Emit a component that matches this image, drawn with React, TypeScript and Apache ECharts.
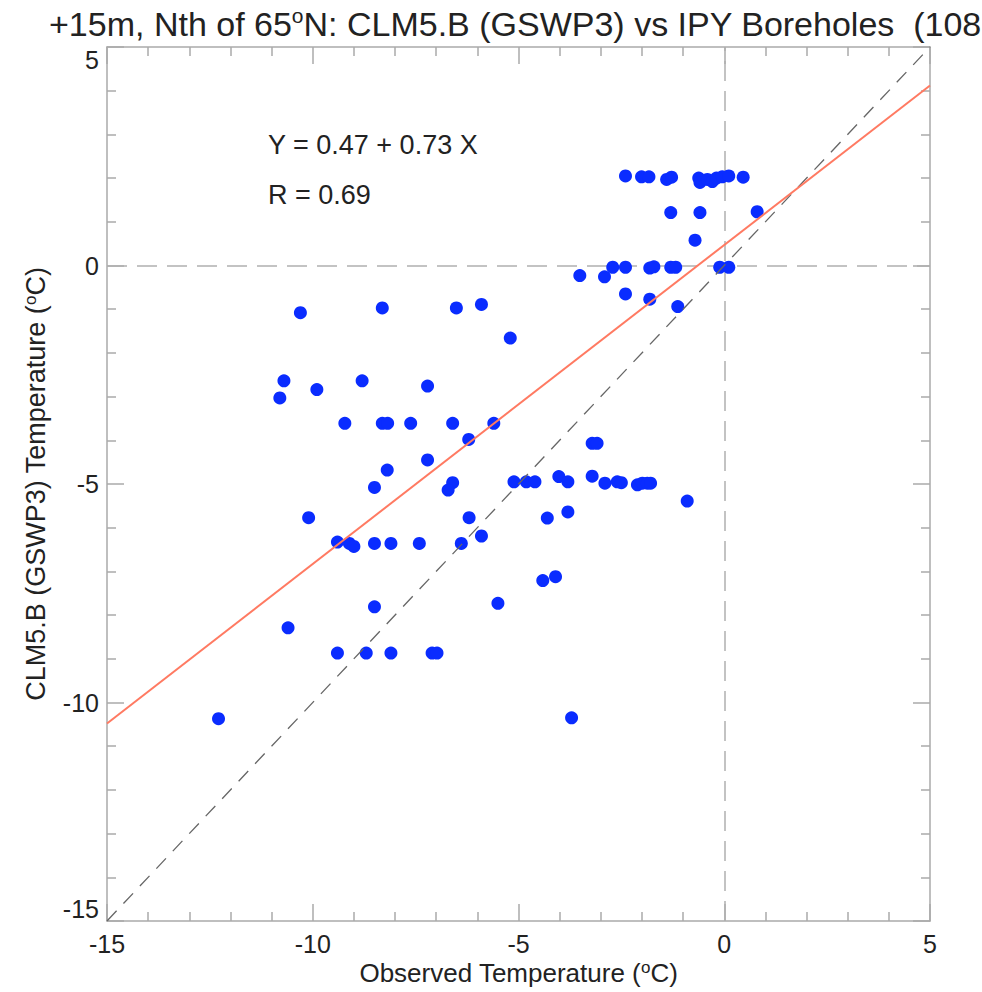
import React, { useEffect, useRef } from "react";
import * as echarts from "echarts";

// Observed borehole temperature (°C) and CLM5.B (GSWP3) temperature (°C)
const observed: number[] = [
  -10.30, -8.31, -6.51, -5.90, -5.20,
  -10.70, -10.80, -9.90, -8.80, -7.21,
  -9.22, -8.31, -8.18, -7.62, -6.60, -5.60, -6.21,
  -3.21, -3.09,
  -7.21, -8.19, -8.50, -6.60, -6.71,
  -10.10, -6.20,
  -9.40, -9.11, -9.00, -8.50, -8.10, -7.41, -6.39, -5.90,
  -8.50, -10.60,
  -9.40, -8.70, -8.10, -7.10, -6.98,
  -12.29,
  -5.11, -4.81, -4.60, -4.02, -3.80, -3.21, -2.90, -2.60, -2.50, -2.11, -1.99, -1.87, -1.79,
  -0.90, -4.30, -3.80,
  -4.41, -4.10, -5.50, -3.71,
  -2.40, -2.01, -1.83, -1.40, -1.28, -0.62, -0.59, -0.41, -0.29, -0.19, -0.05, 0.11, 0.46,
  -1.30, -0.59, 0.80, -0.71,
  -3.51, -2.91, -2.71, -2.40, -1.81, -1.71, -1.30, -1.18, -0.11, 0.11,
  -2.40, -1.81, -1.13,
];
const modelled: number[] = [
  -1.08, -0.97, -0.97, -0.89, -1.66,
  -2.64, -3.03, -2.84, -2.64, -2.76,
  -3.61, -3.61, -3.61, -3.61, -3.61, -3.61, -3.98,
  -4.07, -4.07,
  -4.45, -4.68, -5.08, -4.97, -5.14,
  -5.77, -5.77,
  -6.33, -6.36, -6.43, -6.36, -6.36, -6.36, -6.36, -6.19,
  -7.81, -8.29,
  -8.87, -8.87, -8.87, -8.87, -8.87,
  -10.37,
  -4.95, -4.95, -4.95, -4.83, -4.95, -4.82, -4.98, -4.95, -4.97, -5.02, -4.98, -4.98, -4.98,
  -5.39, -5.78, -5.64,
  -7.21, -7.12, -7.73, -10.35,
  2.05, 2.03, 2.03, 1.97, 2.02, 2.00, 1.90, 1.97, 1.92, 2.00, 2.03, 2.05, 2.02,
  1.21, 1.21, 1.23, 0.58,
  -0.23, -0.26, -0.04, -0.04, -0.06, -0.03, -0.04, -0.04, -0.04, -0.04,
  -0.65, -0.77, -0.94,
];

const fitIntercept = 0.47;
const fitSlope = 0.73;
const fitR = 0.69;
const axisRange: [number, number] = [-15, 5];
const tickLabels = ["-15", "-10", "-5", "0", "5"];

const FONT = "Liberation Sans, Arial, Helvetica, sans-serif";

export default function App() {
  const ref = useRef<HTMLDivElement>(null);

  useEffect(() => {
    if (!ref.current) return;
    const chart = echarts.init(ref.current, null, { renderer: "svg" });

    const points = observed.map((x, i) => [x, modelled[i]]);
    const fitLine = axisRange.map((x) => [x, fitIntercept + fitSlope * x]);
    const oneToOne = axisRange.map((x) => [x, x]);

    const axisLineStyle = { color: "#aaaaaa", width: 1.5 };
    const baseAxis = {
      type: "value" as const,
      min: axisRange[0],
      max: axisRange[1],
      interval: 5,
      splitLine: { show: false },
      axisLine: { show: true, onZero: false, lineStyle: axisLineStyle },
      axisTick: { show: true, inside: true, length: 17, lineStyle: axisLineStyle },
      minorTick: { show: true, splitNumber: 5, length: 9, lineStyle: axisLineStyle },
      minorSplitLine: { show: false },
    };

    const labelFmt = (v: number) => {
      const s = String(Math.round(v));
      return tickLabels.includes(s) ? s : "";
    };

    const supRich = {
      sup: { fontSize: 17, fontFamily: FONT, color: "#222", padding: [0, 0, 10, 0] },
    };

    chart.setOption({
      animation: false,
      backgroundColor: "#ffffff",
      title: {
        text: "+15m, Nth of 65{sup|o}N: CLM5.B (GSWP3) vs IPY Boreholes  (108",
        left: 44,
        top: 0,
        textStyle: {
          fontFamily: FONT,
          fontSize: 34,
          fontWeight: "normal",
          color: "#222",
          rich: {
            sup: { fontSize: 21, fontFamily: FONT, color: "#222", padding: [0, 0, 16, 0] },
          },
        },
      },
      grid: { left: 107, right: 52, top: 47, bottom: 71, containLabel: false, outerBoundsMode: "none" },
      xAxis: [
        {
          ...baseAxis,
          position: "bottom",
          axisLabel: {
            show: true,
            fontFamily: FONT,
            fontSize: 25,
            lineHeight: 24,
            color: "#222",
            margin: 11,
            formatter: labelFmt,
          },
          name: "Observed Temperature ({sup|o}C)",
          nameLocation: "middle",
          nameGap: 38,
          nameMoveOverlap: false,
          nameTextStyle: { fontFamily: FONT, fontSize: 26, color: "#222", rich: supRich },
        },
        {
          ...baseAxis,
          position: "top",
          axisLabel: { show: false },
        },
      ],
      yAxis: [
        {
          ...baseAxis,
          position: "left",
          axisLabel: {
            show: true,
            fontFamily: FONT,
            fontSize: 25,
            color: "#222",
            margin: 8,
            formatter: labelFmt,
            verticalAlignMinLabel: "bottom",
            verticalAlignMaxLabel: "top",
          },
          name: "CLM5.B (GSWP3) Temperature ({sup|o}C)",
          nameLocation: "middle",
          nameGap: 58,
          nameRotate: 90,
          nameMoveOverlap: false,
          nameTextStyle: { fontFamily: FONT, fontSize: 27, color: "#222", rich: supRich },
        },
        {
          ...baseAxis,
          position: "right",
          axisLabel: { show: false },
        },
      ],
      graphic: [
        {
          type: "text",
          left: 268,
          top: 131,
          style: {
            text: `Y = ${fitIntercept.toFixed(2)} + ${fitSlope.toFixed(2)} X`,
            fontFamily: FONT,
            fontSize: 27,
            fill: "#222",
          },
        },
        {
          type: "text",
          left: 268,
          top: 181,
          style: {
            text: `R = ${fitR.toFixed(2)}`,
            fontFamily: FONT,
            fontSize: 27,
            fill: "#222",
          },
        },
      ],
      series: [
        {
          type: "scatter",
          xAxisIndex: 0,
          yAxisIndex: 0,
          data: points,
          symbol: "circle",
          symbolSize: 13,
          itemStyle: { color: "#0a2cff", opacity: 1 },
          z: 3,
          markLine: {
            silent: true,
            symbol: "none",
            label: { show: false },
            lineStyle: { color: "#b0b0b0", width: 1.5, type: [20, 10] },
            data: [{ xAxis: 0 }, { yAxis: 0 }],
            z: 1,
          },
        },
        {
          type: "line",
          xAxisIndex: 0,
          yAxisIndex: 0,
          data: oneToOne,
          showSymbol: false,
          symbol: "none",
          lineStyle: { color: "#666666", width: 1.3, type: [14, 10] },
          z: 5,
        },
        {
          type: "line",
          xAxisIndex: 0,
          yAxisIndex: 0,
          data: fitLine,
          showSymbol: false,
          symbol: "none",
          lineStyle: { color: "#ff7a62", width: 2 },
          z: 6,
        },
      ],
    });

    return () => chart.dispose();
  }, []);

  return (
    <div
      ref={ref}
      style={{ position: "fixed", left: 0, top: 0, width: 982, height: 992 }}
    />
  );
}
